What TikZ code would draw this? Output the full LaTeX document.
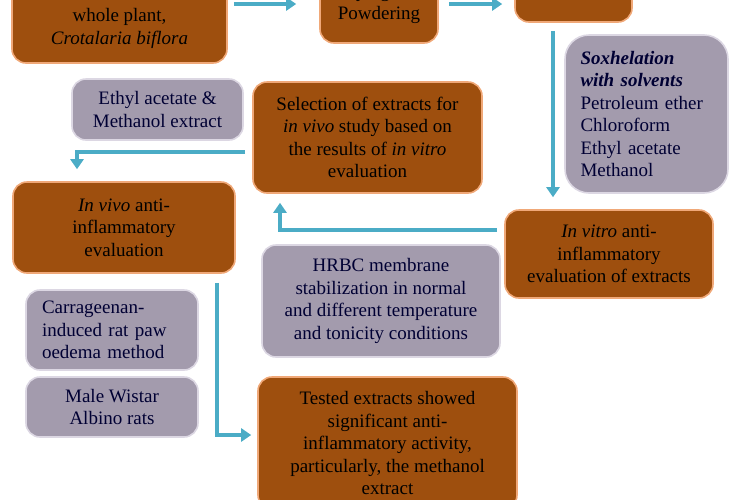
\documentclass[tikz,border=0pt]{standalone}
\usepackage{fontspec}
\setmainfont{Liberation Serif}
\usetikzlibrary{arrows.meta,positioning,calc}
\definecolor{boxbrown}{HTML}{9E4F0E}
\definecolor{rimbrown}{HTML}{F0A878}
\definecolor{boxgray}{HTML}{A39BAD}
\definecolor{rimgray}{HTML}{DCD7E3}
\definecolor{flowcyan}{HTML}{4BACC6}
\tikzset{
  brownbox/.style={draw=rimbrown, line width=1.6pt, fill=boxbrown, rounded corners=14pt,
    align=center, inner sep=0pt, font=\fontsize{19}{22.5}\selectfont, text=black},
  graybox/.style={brownbox, draw=rimgray, fill=boxgray, text=black!80!blue},
  arr/.style={-{Triangle[width=13pt,length=10pt]}, line width=3.2pt, draw=flowcyan}
}
\begin{document}
\begin{tikzpicture}[x=1pt,y=-1pt]
  \useasboundingbox (0,0) rectangle (750,499);
  \clip (0,0) rectangle (750,499);
  % top row
  \node[brownbox, minimum width=215pt, minimum height=92pt] (plant) at (119.5,17)
    {Collection of the\\whole plant,\\\textit{Crotalaria biflora}};
  \node[brownbox, minimum width=118pt, minimum height=78pt] (dry) at (379,4)
    {Drying and\\Powdering};
  \node[brownbox, minimum width=117pt, minimum height=64pt] (extr) at (573.5,-10) {};
  \node[graybox, rounded corners=24pt, minimum width=163pt, minimum height=158pt,
    text width=132pt, align=left] (soxh) at (646.5,114)
    {\textbf{\textit{Soxhelation}}\\\textbf{\textit{with solvents}}\\Petroleum ether\\Chloroform\\Ethyl acetate\\Methanol};
  % middle
  \node[brownbox, minimum width=208pt, minimum height=88pt] (invitro) at (609,254)
    {\textit{In vitro} anti-\\inflammatory\\evaluation of extracts};
  \node[brownbox, minimum width=229pt, minimum height=111pt] (select) at (367.5,137.5)
    {Selection of extracts for\\\textit{in vivo} study based on\\the results of \textit{in vitro}\\evaluation};
  \node[graybox, minimum width=171pt, minimum height=61pt] (ethyl) at (157.5,109.5)
    {Ethyl acetate \&\\Methanol extract};
  \node[brownbox, minimum width=222pt, minimum height=91pt] (invivo) at (124,227.5)
    {\textit{In vivo} anti-\\inflammatory\\evaluation};
  \node[graybox, minimum width=238pt, minimum height=112pt] (hrbc) at (381,301)
    {HRBC membrane\\stabilization in normal\\and different temperature\\and tonicity conditions};
  % bottom
  \node[graybox, minimum width=172pt, minimum height=80pt, text width=140pt, align=left] (carra) at (112,330)
    {Carrageenan-\\induced rat paw\\oedema method};
  \node[graybox, minimum width=172pt, minimum height=60pt] (wistar) at (112,407)
    {Male Wistar\\Albino rats};
  \node[brownbox, minimum width=259pt, minimum height=132pt] (tested) at (387.5,443)
    {Tested extracts showed\\significant anti-\\inflammatory activity,\\particularly, the methanol\\extract};
  % connectors
  \coordinate (drop) at (553,0);
  \draw[arr] ($(plant.east |- dry.center)+(6,0)$) -- ($(dry.west)+(-23,0)$);
  \draw[arr] ($(dry.east)+(10,0)$) -- ($(extr.west |- dry.center)+(-12,0)$);
  \draw[arr] ($(drop |- extr.south)+(0,8)$) -- ($(drop |- invitro.north)+(0,-12)$);
  \draw[arr] ($(invitro.west)+(-7,-24)$) -| ($(select.south)+(-87.5,9)$);
  \draw[arr] ($(select.west)+(-7,14.5)$) -| ($(invivo.north)+(-47,-12)$);
  \draw[arr] ($(invivo.south)+(93,9)$) |- ($(tested.west)+(-6,-8)$);
\end{tikzpicture}
\end{document}
